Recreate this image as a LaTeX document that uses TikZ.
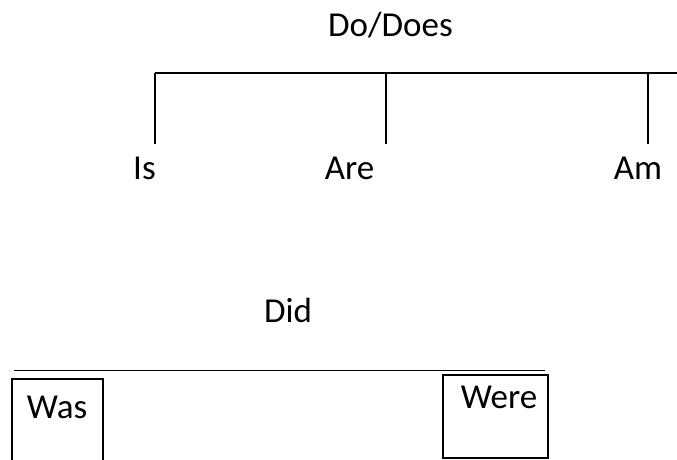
\documentclass[tikz,border=0pt]{standalone}
\usepackage{fontspec}
\setmainfont{Carlito}
\begin{document}
\begin{tikzpicture}[x=1pt,y=-1pt,
  lbl/.style={inner sep=0pt,anchor=base,font=\fontsize{35}{40}\selectfont},
  thick line/.style={line width=2.2pt},
  thin line/.style={line width=1pt},
  boxline/.style={line width=2.2pt}]
\useasboundingbox (0,0) rectangle (677,460);
% top tree
\node[lbl] (do) at (390.5,37) {Do/Does};
\coordinate (tl) at (155,73);
\coordinate (tr) at (677,73);
\coordinate (ta) at (386,73);
\coordinate (tm) at (648,73);
\coordinate (bis) at (155,144);
\coordinate (bare) at (386,144);
\coordinate (bam) at (648,144);
\draw[thick line] (tl) -- (tr);
\draw[thick line] (tl) -- (bis);
\draw[thick line] (ta) -- (bare);
\draw[thick line] (tm) -- (bam);
\node[lbl] (is) at (144.5,179) {Is};
\node[lbl] (are) at (349.5,179) {Are};
\node[lbl] (am) at (638,179) {Am};
% bottom
\node[lbl] (did) at (288,322) {Did};
\coordinate (bl) at (14,370);
\coordinate (br) at (545,370);
\draw[thin line] (bl) -- (br);
\draw[boxline] (12,462) -- (12,379) -- (103,379) -- (103,462);
\node[lbl] (was) at (57,418) {Was};
\draw[boxline] (443,375) rectangle (548,458);
\node[lbl] (were) at (499,408) {Were};
\end{tikzpicture}
\end{document}
